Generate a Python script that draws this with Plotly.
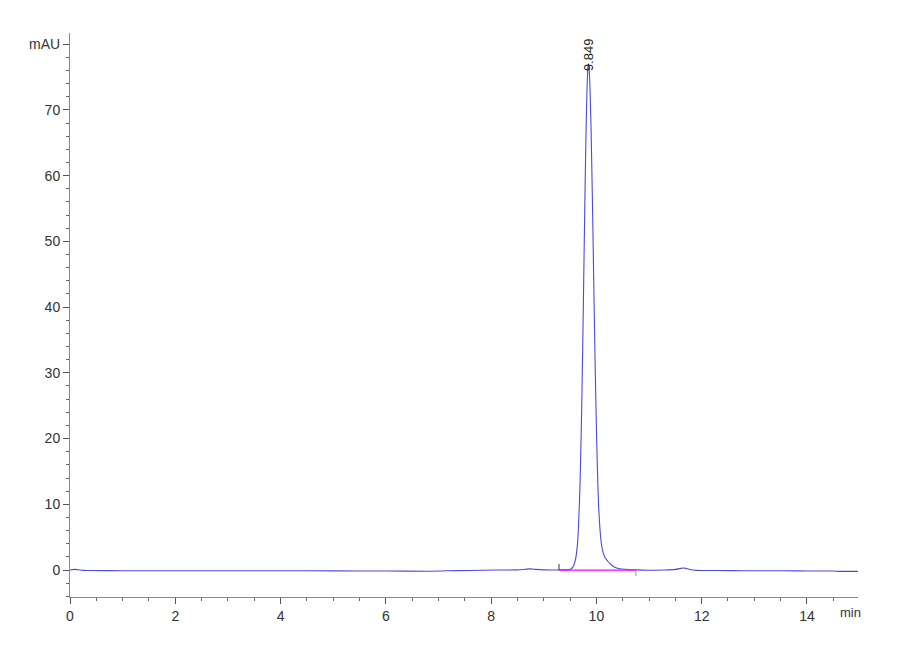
import plotly.graph_objects as go

FONT = 'Liberation Sans Narrow, Liberation Sans, Arial, sans-serif'

# chromatogram signal (min, mAU)
time_min = [0.0, 0.08, 0.15, 0.25, 0.4, 1.0, 2.0, 3.0, 4.0, 5.0, 6.0, 6.8, 7.16,
            7.6, 8.1, 8.5, 8.65, 8.75, 8.85, 9.0, 9.15, 9.29, 9.4, 9.5, 9.55,
            9.6, 9.64, 9.68, 9.70, 9.72, 9.74, 9.76, 9.78, 9.80, 9.82, 9.84,
            9.849, 9.86, 9.88, 9.90, 9.92, 9.94, 9.96, 9.98, 10.00, 10.02,
            10.04, 10.06, 10.08, 10.10, 10.13, 10.16, 10.20, 10.22, 10.26,
            10.30, 10.36, 10.45, 10.6, 10.75, 11.0, 11.3, 11.5, 11.6, 11.68,
            11.76, 11.9, 12.3, 12.8, 13.3, 13.8, 14.2, 14.5, 14.6, 14.8, 14.97]
signal_mau = [0.0, 0.1, 0.05, -0.05, -0.08, -0.1, -0.1, -0.1, -0.1, -0.12,
              -0.15, -0.18, -0.1, -0.08, 0.0, 0.02, 0.12, 0.18, 0.1, 0.02, 0.0,
              0.0, 0.02, 0.1, 0.4, 1.5, 3.9, 10.7, 16.6, 24.3, 33.8, 44.5, 55.4,
              65.2, 72.6, 76.6, 77.0, 76.5, 73.0, 66.7, 58.2, 48.7, 38.9, 29.8,
              21.8, 15.2, 10.2, 7.2, 5.1, 3.7, 2.6, 1.95, 1.5, 1.3, 1.0, 0.7,
              0.4, 0.2, 0.08, 0.02, -0.02, 0.0, 0.1, 0.25, 0.3, 0.12, -0.05,
              -0.08, -0.1, -0.1, -0.12, -0.15, -0.15, -0.2, -0.2, -0.2]

# integration baseline of the peak
base_t = [9.29, 10.75]
base_y = [0.0, 0.0]

peak_rt = 9.849
peak_height = 77.0

y_ticks = [0, 10, 20, 30, 40, 50, 60, 70, 80]
y_labels = ['0', '10', '20', '30', '40', '50', '60', '70', 'mAU']
x_ticks = [0, 2, 4, 6, 8, 10, 12, 14]

fig = go.Figure()

fig.add_trace(go.Scatter(
    x=time_min, y=signal_mau, mode='lines',
    line=dict(color='#4a4ade', width=1.1, shape='spline', smoothing=0.6),
    hoverinfo='skip', showlegend=False,
))

# magenta baseline with start / end markers
fig.add_trace(go.Scatter(
    x=base_t, y=base_y, mode='lines',
    line=dict(color='#ff00ff', width=1.2),
    hoverinfo='skip', showlegend=False,
))
fig.add_trace(go.Scatter(
    x=[base_t[0], base_t[0]], y=[base_y[0], base_y[0] + 0.9], mode='lines',
    line=dict(color='#333333', width=1),
    hoverinfo='skip', showlegend=False,
))
fig.add_trace(go.Scatter(
    x=[base_t[1], base_t[1]], y=[base_y[1], base_y[1] - 0.9], mode='lines',
    line=dict(color='#999999', width=1),
    hoverinfo='skip', showlegend=False,
))

# retention time label
fig.add_annotation(
    x=peak_rt, y=peak_height - 0.5,
    text=f'{peak_rt:.3f}',
    textangle=-90,
    showarrow=False,
    xanchor='center', yanchor='bottom', yshift=-6,
    font=dict(size=13, family=FONT, color='#222222'),
)

# x axis unit
fig.add_annotation(
    x=14.82, y=-4.1, yref='y',
    text='min',
    showarrow=False,
    xanchor='center', yanchor='top', yshift=-6,
    font=dict(size=13, family=FONT, color='#333333'),
)

fig.update_layout(
    width=900, height=660,
    plot_bgcolor='white', paper_bgcolor='white',
    margin=dict(l=62, r=50, t=25, b=71),
    font=dict(family=FONT, size=14, color='#333333'),
    xaxis=dict(
        range=[0, 14.97],
        tickvals=x_ticks,
        ticks='outside', ticklen=6, tickcolor='#555555',
        showline=True, linecolor='#888888', linewidth=1,
        showgrid=False, zeroline=False,
        minor=dict(dtick=0.5, ticks='outside', ticklen=3, tickcolor='#666666'),
        tickfont=dict(size=14, family=FONT, color='#333333'),
    ),
    yaxis=dict(
        range=[-4.1, 81.7],
        tickvals=y_ticks, ticktext=y_labels,
        ticks='outside', ticklen=6, tickcolor='#555555',
        showline=True, linecolor='#888888', linewidth=1,
        showgrid=False, zeroline=False,
        minor=dict(dtick=2, ticks='outside', ticklen=3, tickcolor='#666666'),
        tickfont=dict(size=14, family=FONT, color='#333333'),
    ),
)

fig.write_html('out.html')
